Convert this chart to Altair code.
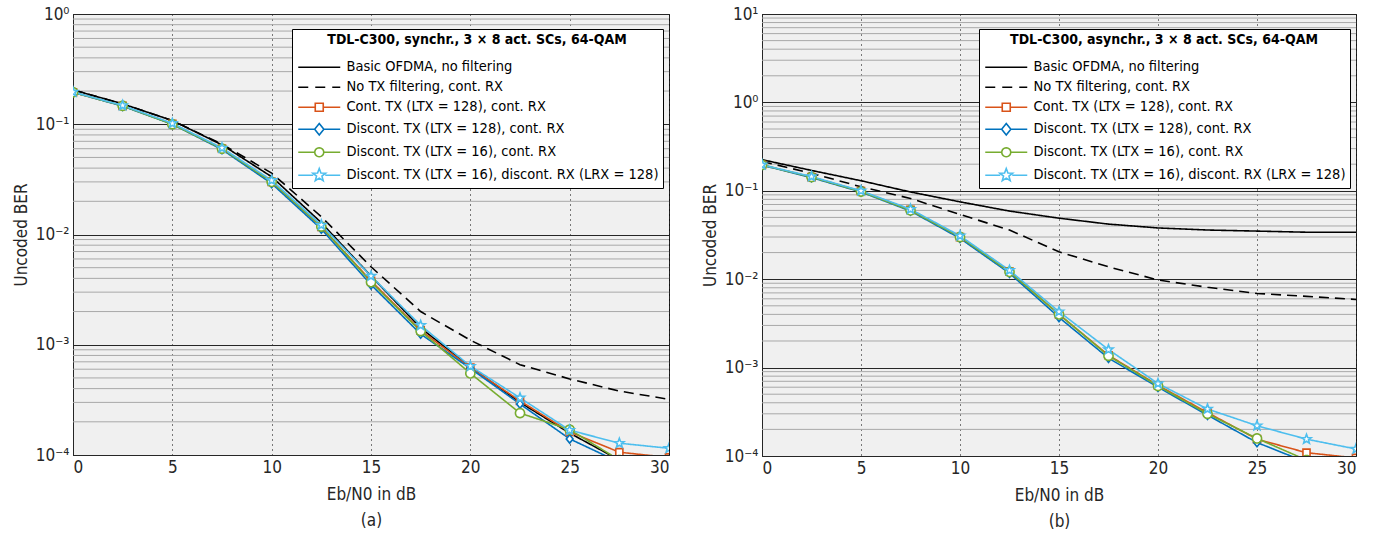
import math
import altair as alt
import pandas as pd

FONT = "Liberation Sans Narrow, DejaVu Sans Condensed, Roboto, sans-serif"

EBN0_DB = [0, 2.5, 5, 7.5, 10, 12.5, 15, 17.5, 20, 22.5, 25, 27.5, 30]

SERIES = [
    "Basic OFDMA, no filtering",
    "No TX filtering, cont. RX",
    "Cont. TX (LTX = 128), cont. RX",
    "Discont. TX (LTX = 128), cont. RX",
    "Discont. TX (LTX = 16), cont. RX",
    "Discont. TX (LTX = 16), discont. RX (LRX = 128)",
]
COLORS = ["#000000", "#000000", "#D95319", "#0072BD", "#77AC30", "#4DBEEE"]
DASHES = [[1, 0], [10, 6], [1, 0], [1, 0], [1, 0], [1, 0]]
MARKER_SIZES = [60, 95, 70, 180]

A_BASIC = [0.205, 0.153, 0.108, 0.065, 0.0334, 0.0128, 0.0042, 0.00142, 0.00063, 0.00030, 0.000158, 0.00009, 0.00006]
A_NOTX = [0.205, 0.153, 0.108, 0.066, 0.036, 0.0145, 0.0051, 0.0020, 0.0011, 0.00066, 0.00049, 0.00038, 0.00032]
A_CONT128 = [0.195, 0.147, 0.101, 0.060, 0.030, 0.0117, 0.0038, 0.00135, 0.00062, 0.00031, 0.000162, 0.000106, 0.000095]
A_DISC128 = [0.195, 0.146, 0.100, 0.059, 0.029, 0.0112, 0.0035, 0.00125, 0.00061, 0.00029, 0.00014, 0.000086, 0.00006]
A_DISC16 = [0.195, 0.147, 0.100, 0.060, 0.030, 0.0118, 0.0037, 0.00133, 0.00055, 0.00024, 0.00017, 0.00009, 0.00006]
A_DISCRX = [0.196, 0.148, 0.102, 0.061, 0.031, 0.0122, 0.0042, 0.0015, 0.00064, 0.00033, 0.000168, 0.000128, 0.000115]

B_BASIC = [0.225, 0.17, 0.13, 0.097, 0.075, 0.059, 0.049, 0.042, 0.038, 0.036, 0.035, 0.034, 0.034]
B_NOTX = [0.215, 0.158, 0.111, 0.082, 0.054, 0.036, 0.0204, 0.0138, 0.0098, 0.0081, 0.0069, 0.0064, 0.0059]
B_CONT128 = [0.196, 0.143, 0.099, 0.061, 0.030, 0.0122, 0.0040, 0.00138, 0.00063, 0.00031, 0.000155, 0.000109, 0.000095]
B_DISC128 = [0.195, 0.141, 0.097, 0.059, 0.029, 0.0117, 0.0037, 0.00128, 0.00060, 0.00029, 0.000142, 0.000085, 0.00006]
B_DISC16 = [0.196, 0.143, 0.098, 0.060, 0.030, 0.0121, 0.0040, 0.00136, 0.00062, 0.00030, 0.000158, 0.00009, 0.00006]
B_DISCRX = [0.197, 0.145, 0.100, 0.062, 0.031, 0.0126, 0.0043, 0.0016, 0.00066, 0.00034, 0.00022, 0.000155, 0.00012]

X_TICKS = [0, 5, 10, 15, 20, 25, 30]
SUP = {0: "\u2070", 1: "\u00b9", -1: "\u207b\u00b9", -2: "\u207b\u00b2", -3: "\u207b\u00b3", -4: "\u207b\u2074"}


def frame(lists):
    rows = []
    for name, vals in zip(SERIES, lists):
        for x, v in zip(EBN0_DB, vals):
            rows.append({"x": x, "ber": v, "series": name})
    return pd.DataFrame(rows)


def f(v):
    return f"{v:.3f}"


def seg(a, b):
    return f"M{f(a)},0L{f(b)},0"


def poly(cx, radii, n, start=-90.0):
    pts = []
    for k in range(n):
        ang = math.radians(start + 360.0 * k / n)
        r = radii[k % len(radii)]
        pts.append(f"{f(cx + r * math.cos(ang))},{f(r * math.sin(ang))}")
    return "M" + "L".join(pts) + "Z"


# plot markers (unit radius ~1, scaled by sqrt(size)/2)
MARKERS = [
    poly(0, [1.3], 4, 45),
    poly(0, [1.0, 0.8], 4, -90),
    poly(0, [1.0], 24, 0),
    poly(0, [1.0, 0.42], 10, -90),
]

# legend symbols: line + marker, in units of 5 px (symbol size 100)
C = 3.2
LEFT, RIGHT = -1.0, 7.4
LEG_PATHS = [
    seg(LEFT, RIGHT),
    seg(LEFT, 1.0) + seg(2.4, 4.4) + seg(5.8, RIGHT),
    seg(LEFT, C - 0.8) + seg(C + 0.8, RIGHT) + poly(C, [1.13], 4, 45),
    seg(LEFT, C - 0.9) + seg(C + 0.9, RIGHT) + poly(C, [1.15, 0.92], 4, -90),
    seg(LEFT, C - 0.9) + seg(C + 0.9, RIGHT) + poly(C, [0.9], 24, 0),
    seg(LEFT, C - 1.2) + seg(C + 1.2, RIGHT) + poly(C, [1.35, 0.57], 10, -90),
]


def label_expr(decades):
    expr = "''"
    for e in decades:
        expr = f"(abs(log(datum.value)/LN10 - ({e})) < 0.01 ? '10{SUP[e]}' : {expr})"
    return expr


def panel(lists, ymax_exp, legend_title, sub, width, height, legend_x):
    df = frame(lists)
    decades = list(range(-4, ymax_exp + 1))
    major = [10.0 ** e for e in decades]
    minor = [k * 10.0 ** e for e in decades[:-1] for k in range(2, 10)]
    yscale = alt.Scale(type="log", domain=[1e-4, 10.0 ** ymax_exp], nice=False)
    yaxis = alt.Axis(
        title="Uncoded BER", values=major, grid=True, gridColor="#262626", gridOpacity=1,
        ticks=False, labelExpr=label_expr(decades), labelPadding=4, titlePadding=5,
    )
    xaxis = alt.Axis(
        title=["Eb/N0 in dB", sub], values=X_TICKS, grid=True, gridColor="#000000",
        gridDash=[1, 4], gridOpacity=1, ticks=False, labelPadding=4, titlePadding=11,
        titleLineHeight=26,
    )
    xenc = alt.X("x:Q", scale=alt.Scale(domain=[0, 30], nice=False), axis=xaxis)

    grid = alt.Chart(pd.DataFrame({"g": minor})).mark_rule(color="#a8a8a8", strokeWidth=1).encode(
        y=alt.Y("g:Q", scale=yscale, axis=yaxis)
    )
    lines = alt.Chart(df).mark_line(clip=True, strokeWidth=1.6).encode(
        x=xenc,
        y=alt.Y("ber:Q", scale=yscale, axis=yaxis),
        color=alt.Color("series:N", scale=alt.Scale(domain=SERIES, range=COLORS), legend=None),
        strokeDash=alt.StrokeDash("series:N", scale=alt.Scale(domain=SERIES, range=DASHES), legend=None),
    )
    points = alt.Chart(df).transform_filter(
        alt.FieldOneOfPredicate(field="series", oneOf=SERIES[2:])
    ).mark_point(clip=True, filled=False, fill="white", strokeWidth=1.6, opacity=1).encode(
        x=xenc,
        y=alt.Y("ber:Q", scale=yscale, axis=yaxis),
        color=alt.Color("series:N", scale=alt.Scale(domain=SERIES[2:], range=COLORS[2:]), legend=None),
        shape=alt.Shape("series:N", scale=alt.Scale(domain=SERIES[2:], range=MARKERS), legend=None),
        size=alt.Size("series:N", scale=alt.Scale(domain=SERIES[2:], range=MARKER_SIZES), legend=None),
    )
    leg = alt.Legend(
        title=legend_title, orient="none", legendX=legend_x, legendY=15,
        titleAnchor="middle", titleFontSize=14, titleFontWeight="bold", titlePadding=13,
        titleFont=FONT, labelFont=FONT, labelFontSize=14.5, labelLimit=1000, titleLimit=1000,
        symbolSize=100, symbolStrokeWidth=1.6, symbolFillColor="white", symbolOpacity=1,
        labelOffset=36, padding=4, rowPadding=5, strokeColor="#000000", fillColor="#ffffff",
    )
    legend_layer = alt.Chart(df).mark_point(filled=False, opacity=0).encode(
        x=xenc,
        y=alt.Y("ber:Q", scale=yscale, axis=yaxis),
        color=alt.Color("series:N", scale=alt.Scale(domain=SERIES, range=COLORS), legend=leg),
        shape=alt.Shape("series:N", scale=alt.Scale(domain=SERIES, range=LEG_PATHS), legend=leg),
    )
    return alt.layer(grid, lines, points, legend_layer).resolve_scale(
        color="independent", shape="independent", strokeDash="independent", size="independent"
    ).properties(width=width, height=height)


left = panel([A_BASIC, A_NOTX, A_CONT128, A_DISC128, A_DISC16, A_DISCRX], 0,
             "TDL-C300, synchr., 3 \u00d7 8 act. SCs, 64-QAM", "(a)", 596, 441, 219)
right = panel([B_BASIC, B_NOTX, B_CONT128, B_DISC128, B_DISC16, B_DISCRX], 1,
              "TDL-C300, asynchr., 3 \u00d7 8 act. SCs, 64-QAM", "(b)", 594, 442, 217)

chart = alt.hconcat(left, right, spacing=10).properties(
    padding={"left": 11, "top": 4, "right": 0, "bottom": 0}
).configure(font=FONT, background="white").configure_view(
    fill="#f0f0f0", stroke="#262626", strokeWidth=1
).configure_axis(
    labelFont=FONT, titleFont=FONT, labelFontSize=17, titleFontSize=17,
    labelColor="#262626", titleColor="#262626", titleFontWeight="normal",
    domainColor="#262626",
)

chart.save("out.html", embed_options={"renderer": "svg", "actions": False})
